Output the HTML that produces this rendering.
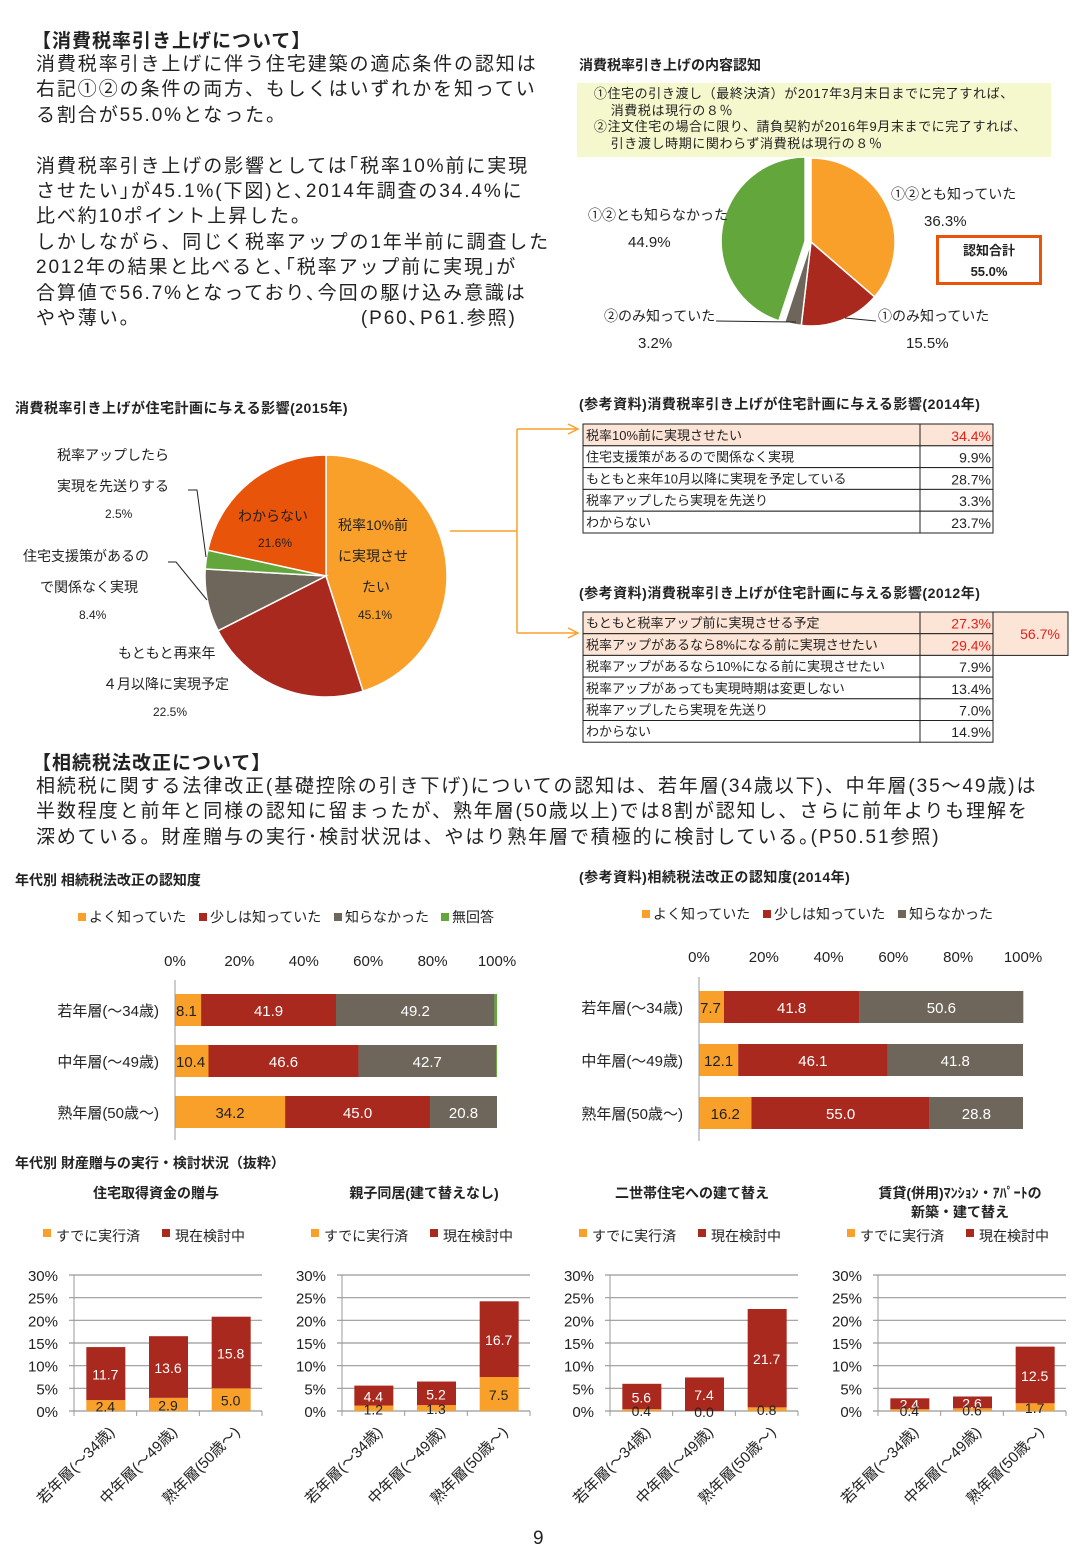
<!DOCTYPE html>
<html><head><meta charset="utf-8">
<style>
body{margin:0;width:1081px;height:1561px;background:#fff;overflow:hidden;font-family:"Liberation Sans","Noto Sans CJK JP",sans-serif;color:#222;position:relative}
.t{position:absolute;white-space:nowrap}
.h{font-weight:bold}
#svg{position:absolute;left:0;top:0}
</style></head><body>
<div class="t h" style="left:32px;top:26px;font-size:19px;letter-spacing:1px">【消費税率引き上げについて】</div>
<div class="t" style="left:36px;top:52px;font-size:19px;line-height:25.4px;letter-spacing:1.9px">消費税率引き上げに伴う住宅建築の適応条件の認知は<br>右記①②の条件の両方、もしくはいずれかを知ってい<br>る割合が55.0%となった。<br><br>消費税率引き上げの影響としては｢税率10%前に実現<br>させたい｣が45.1%(下図)と､2014年調査の34.4%に<br>比べ約10ポイント上昇した。<br>しかしながら、同じく税率アップの1年半前に調査した<br>2012年の結果と比べると､｢税率アップ前に実現｣が<br>合算値で56.7%となっており､今回の駆け込み意識は<br>やや薄い。　　　　　　　　　　　(P60､P61.参照)</div>

<div class="t h" style="left:579px;top:55px;font-size:14px">消費税率引き上げの内容認知</div>
<div class="t" style="left:577px;top:83px;width:474px;height:74px;background:#F4F8CC;font-size:13px;line-height:16.7px;letter-spacing:0.6px;padding-top:3px;box-sizing:border-box">&nbsp;&nbsp;&nbsp;&nbsp;①住宅の引き渡し（最終決済）が2017年3月末日までに完了すれば、<br>&nbsp;&nbsp;&nbsp;&nbsp;&nbsp;&nbsp;&nbsp;&nbsp;消費税は現行の８％<br>&nbsp;&nbsp;&nbsp;&nbsp;②注文住宅の場合に限り、請負契約が2016年9月末までに完了すれば、<br>&nbsp;&nbsp;&nbsp;&nbsp;&nbsp;&nbsp;&nbsp;&nbsp;引き渡し時期に関わらず消費税は現行の８％</div>
<div class="t" style="left:936px;top:235px;width:106px;height:50px;border:3px solid #E8540A;text-align:center;font-weight:bold;font-size:13px;line-height:21px;box-sizing:border-box;padding-top:2px">認知合計<br>55.0%</div>

<div class="t h" style="left:15px;top:398px;font-size:14px;letter-spacing:0.5px">消費税率引き上げが住宅計画に与える影響(2015年)</div>
<div class="t h" style="left:579px;top:394px;font-size:14px;letter-spacing:0.5px">(参考資料)消費税率引き上げが住宅計画に与える影響(2014年)</div>
<div class="t h" style="left:579px;top:583px;font-size:14px;letter-spacing:0.5px">(参考資料)消費税率引き上げが住宅計画に与える影響(2012年)</div>

<div class="t h" style="left:32px;top:748px;font-size:19px;letter-spacing:1px">【相続税法改正について】</div>
<div class="t" style="left:36px;top:774px;font-size:19px;line-height:25.4px;letter-spacing:1.9px">相続税に関する法律改正(基礎控除の引き下げ)についての認知は、若年層(34歳以下)、中年層(35～49歳)は<br>半数程度と前年と同様の認知に留まったが、熟年層(50歳以上)では8割が認知し、さらに前年よりも理解を<br>深めている。財産贈与の実行･検討状況は、やはり熟年層で積極的に検討している｡(P50.51参照)</div>
<div class="t h" style="left:15px;top:870px;font-size:14px">年代別 相続税法改正の認知度</div>
<div class="t h" style="left:579px;top:867px;font-size:14px;letter-spacing:0.5px">(参考資料)相続税法改正の認知度(2014年)</div>
<div class="t h" style="left:15px;top:1153px;font-size:14px">年代別 財産贈与の実行・検討状況（抜粋）</div>
<div class="t" style="left:533px;top:1528px;font-size:19px">9</div>

<svg id="svg" width="1081" height="1561" xmlns="http://www.w3.org/2000/svg" font-family="Liberation Sans, Noto Sans CJK JP, sans-serif"></svg>

<script>
// ---- data ----
const pie1Labels=['①②とも知っていた','①のみ知っていた','②のみ知っていた','①②とも知らなかった'];
const pie1Values=[36.3,15.5,3.2,44.9];
const pie2Labels=['税率10%前に実現させたい','もともと再来年4月以降に実現予定','住宅支援策があるので関係なく実現','税率アップしたら実現を先送りする','わからない'];
const pie2Values=[45.1,22.5,8.4,2.5,21.6];
const t2014Labels=['税率10%前に実現させたい','住宅支援策があるので関係なく実現','もともと来年10月以降に実現を予定している','税率アップしたら実現を先送り','わからない'];
const t2014Values=['34.4%','9.9%','28.7%','3.3%','23.7%'];
const t2012Labels=['もともと税率アップ前に実現させる予定','税率アップがあるなら8%になる前に実現させたい','税率アップがあるなら10%になる前に実現させたい','税率アップがあっても実現時期は変更しない','税率アップしたら実現を先送り','わからない'];
const t2012Values=['27.3%','29.4%','7.9%','13.4%','7.0%','14.9%'];
const hbCats=['若年層(～34歳)','中年層(～49歳)','熟年層(50歳～)'];
const hb2015Well=[8.1,10.4,34.2];
const hb2015Some=[41.9,46.6,45.0];
const hb2015No=[49.2,42.7,20.8];
const hb2015NA=[0.8,0.3,0.0];
const hb2014Well=[7.7,12.1,16.2];
const hb2014Some=[41.8,46.1,55.0];
const hb2014No=[50.6,41.8,28.8];
const hbTicks=['0%','20%','40%','60%','80%','100%'];
const colTitles=[['住宅取得資金の贈与'],['親子同居(建て替えなし)'],['二世帯住宅への建て替え'],['賃貸(併用)ﾏﾝｼｮﾝ・ｱﾊﾟｰﾄの','新築・建て替え']];
const colExec=[[2.4,2.9,5.0],[1.2,1.3,7.5],[0.4,0.0,0.8],[0.4,0.6,1.7]];
const colCons=[[11.7,13.6,15.8],[4.4,5.2,16.7],[5.6,7.4,21.7],[2.4,2.6,12.5]];
const colTicks=[0,5,10,15,20,25,30];

const C={or:'#F9A02A',rd:'#A9291E',gy:'#6E665A',gr:'#63A73C',dor:'#E8540A'};
const svg=document.getElementById('svg');
const NS='http://www.w3.org/2000/svg';
function el(tag,attrs,parent){const e=document.createElementNS(NS,tag);for(const k in attrs)e.setAttribute(k,attrs[k]);(parent||svg).appendChild(e);return e;}
function txt(s,x,y,size,attrs,parent){const e=el('text',Object.assign({x:x,y:y,'font-size':size,fill:'#222'},attrs||{}),parent);e.textContent=s;return e;}

function slicePath(cx,cy,r,a0,a1){const p=a=>[cx+r*Math.sin(a),cy-r*Math.cos(a)];const s=p(a0),e=p(a1);const large=(a1-a0)>Math.PI?1:0;return `M${cx},${cy}L${s[0]},${s[1]}A${r},${r} 0 ${large} 1 ${e[0]},${e[1]}Z`;}
function pie(cx,cy,r,vals,cols,names,explode){const tot=vals.reduce((a,b)=>a+b,0);let a=0;const g=el('g',{});
 vals.forEach((v,i)=>{const a1=a+v/tot*2*Math.PI;let dx=0,dy=0;if(explode&&explode[i]){const m=(a+a1)/2;dx=explode[i]*Math.sin(m);dy=-explode[i]*Math.cos(m);}
  const p=el('path',{d:slicePath(cx+dx,cy+dy,r,a,a1),fill:cols[i],stroke:'#fff','stroke-width':1.5},g);
  
  a=a1;});}

// pie 1
pie(811,242,84,pie1Values,[C.or,C.rd,C.gy,C.gr],['slice-both-known','slice-1-only','slice-2-only','slice-neither'],[0,0,0,6]);
txt(pie1Labels[0],891,199,14);txt(pie1Values[0].toFixed(1)+'%',924,226,15);
txt(pie1Labels[3],588,220,14);txt(pie1Values[3].toFixed(1)+'%',628,247,15);
txt(pie1Labels[2],604,321,14);txt(pie1Values[2].toFixed(1)+'%',638,348,15);
txt(pie1Labels[1],878,321,14);txt(pie1Values[1].toFixed(1)+'%',906,348,15);
el('path',{d:'M716,321L796,322',stroke:'#222',fill:'none'});
el('path',{d:'M845,318L876,321',stroke:'#222',fill:'none'});

// pie 2
pie(326,576,121,pie2Values,[C.or,C.rd,C.gy,C.gr,C.dor],['slice-before-10pct','slice-planned-later','slice-support-policy','slice-postpone','slice-unknown']);
[['税率10%前',338,530],['に実現させ',338,561],['たい',362,592]].forEach(a=>txt(a[0],a[1],a[2],14));
txt(pie2Values[0].toFixed(1)+'%',358,619,12);
txt('わからない',238,521,14);txt(pie2Values[4].toFixed(1)+'%',258,547,12);
txt('税率アップしたら',57,460,14);txt('実現を先送りする',57,491,14);txt(pie2Values[3].toFixed(1)+'%',105,518,12);
txt('住宅支援策があるの',23,561,14);txt('で関係なく実現',40,592,14);txt(pie2Values[2].toFixed(1)+'%',79,619,12);
txt('もともと再来年',118,658,14);txt('４月以降に実現予定',103,689,14);txt(pie2Values[1].toFixed(1)+'%',153,716,12);
el('path',{d:'M188,490L197,490L206,557',stroke:'#222',fill:'none'});
el('path',{d:'M168,562L176,562L207,600',stroke:'#222',fill:'none'});
// bracket
el('path',{d:'M450,531L517,531M517,429L517,633M517,429L576,429M517,633L576,633',stroke:C.or,fill:'none','stroke-width':1.5});
el('path',{d:'M568,424L578,429L568,434M568,628L578,633L568,638',stroke:C.or,fill:'none','stroke-width':1.5});

// tables
function table(x,y,rh,labels,vals,hiRows,name){const g=el('g',{});
 labels.forEach((l,i)=>{const yy=y+i*rh;const f=hiRows.includes(i)?'#FCE4D6':'#fff';
  el('rect',{x:x,y:yy,width:337,height:rh,fill:f,stroke:'#222','stroke-width':1},g);
  el('rect',{x:x+337,y:yy,width:73,height:rh,fill:f,stroke:'#222','stroke-width':1},g);
  txt(l,x+3,yy+rh-6,13,{},g);
  txt(vals[i],x+408,yy+rh-5,14,{'text-anchor':'end',fill:hiRows.includes(i)?'#E8201A':'#222'},g);});}
table(583,424,21.8,t2014Labels,t2014Values,[0],'table-2014');
table(583,612,21.7,t2012Labels,t2012Values,[0,1],'table-2012');
el('rect',{x:993,y:612,width:75,height:43.4,fill:'#FCE4D6',stroke:'#222'});
txt('56.7%',1040,639,14,{'text-anchor':'middle',fill:'#E8201A'});

// horizontal bars
function hbar(x0,x1,rowsY,bh,series,cols,legend,legX,legY,tickY,name){
 const g=el('g',{});
 const sx=v=>x0+(x1-x0)*v/100;
 hbTicks.forEach((t,i)=>{txt(t,sx(i*20),tickY,15,{'text-anchor':'middle'},g);});
 let lx=legX;legend.forEach((l,i)=>{el('rect',{x:lx,y:legY-9,width:8,height:8,fill:cols[i]},g);txt(l,lx+11,legY,14,{},g);lx+=11+l.length*14+12;});
 hbCats.forEach((c,ci)=>{const cy=rowsY[ci];txt(c,x0-16,cy+6,15,{'text-anchor':'end'},g);let acc=0;
  series.forEach((s,si)=>{const v=s[ci];if(v<=0)return;const r=el('rect',{x:sx(acc),y:cy-bh/2,width:sx(acc+v)-sx(acc),height:bh,fill:cols[si]},g);
   
   
   if(si<3){const w=sx(acc+v)-sx(acc);const tx=w<35?sx(acc)+1:sx(acc)+w/2;txt(v.toFixed(1),tx,cy+6,15,{'text-anchor':w<35?'start':'middle',fill:si===0?'#222':'#fff'},g);}
   acc+=v;});});
 el('line',{x1:x0,y1:rowsY[0]-30,x2:x0,y2:rowsY[2]+28,stroke:'#999'},g);}
hbar(175,497,[1010,1061,1112],32,[hb2015Well,hb2015Some,hb2015No,hb2015NA],[C.or,C.rd,C.gy,C.gr],['よく知っていた','少しは知っていた','知らなかった','無回答'],78,922,966,'hbar-2015');
hbar(699,1023,[1007,1060,1113],32,[hb2014Well,hb2014Some,hb2014No],[C.or,C.rd,C.gy],['よく知っていた','少しは知っていた','知らなかった'],642,919,962,'hbar-2014');

// column charts
colTitles.forEach((tl,k)=>{const ox=k*268;const ax0=74+ox,ax1=262+ox;const y0=1411,y30=1275;
 const sy=v=>y0-(y0-y30)*v/30;const g=el('g',{});
 tl.forEach((t,i)=>txt(t,156+ox,1198+i*19,14,{'text-anchor':'middle','font-weight':'bold'},g));
 el('rect',{x:43+ox,y:1229,width:8,height:8,fill:C.or},g);txt('すでに実行済',56+ox,1241,14,{},g);
 el('rect',{x:162+ox,y:1229,width:8,height:8,fill:C.rd},g);txt('現在検討中',175+ox,1241,14,{},g);
 colTicks.forEach(t=>{txt(t+'%',58+ox,sy(t)+6,15,{'text-anchor':'end'},g);el('line',{x1:ax0-5,y1:sy(t),x2:ax1,y2:sy(t),stroke:'#999','stroke-width':1.2},g);});
 el('line',{x1:ax0,y1:y30,x2:ax0,y2:y0+5,stroke:'#999'},g);
 hbCats.forEach((c,ci)=>{const cx=ax0+(ax1-ax0)*(ci+0.5)/3;const e=colExec[k][ci],n=colCons[k][ci];
  el('line',{x1:ax0+(ax1-ax0)*(ci+1)/3,y1:y0,x2:ax0+(ax1-ax0)*(ci+1)/3,y2:y0+5,stroke:'#999'},g);
  const r1=el('rect',{x:cx-19,y:sy(e),width:39,height:sy(0)-sy(e),fill:C.or},g);
  
  
  const r2=el('rect',{x:cx-19,y:sy(e+n),width:39,height:sy(e)-sy(e+n),fill:C.rd},g);
  
  
  txt(n.toFixed(1),cx,(sy(e)+sy(e+n))/2+6,14,{'text-anchor':'middle',fill:'#fff'},g);
  txt(e.toFixed(1),cx,sy(e/2)+6,14,{'text-anchor':'middle'},g);
  txt(c,cx+10,y0+22,15,{'text-anchor':'end',transform:`rotate(-45 ${cx+10} ${y0+22})`},g);});});
</script>
</body></html>
